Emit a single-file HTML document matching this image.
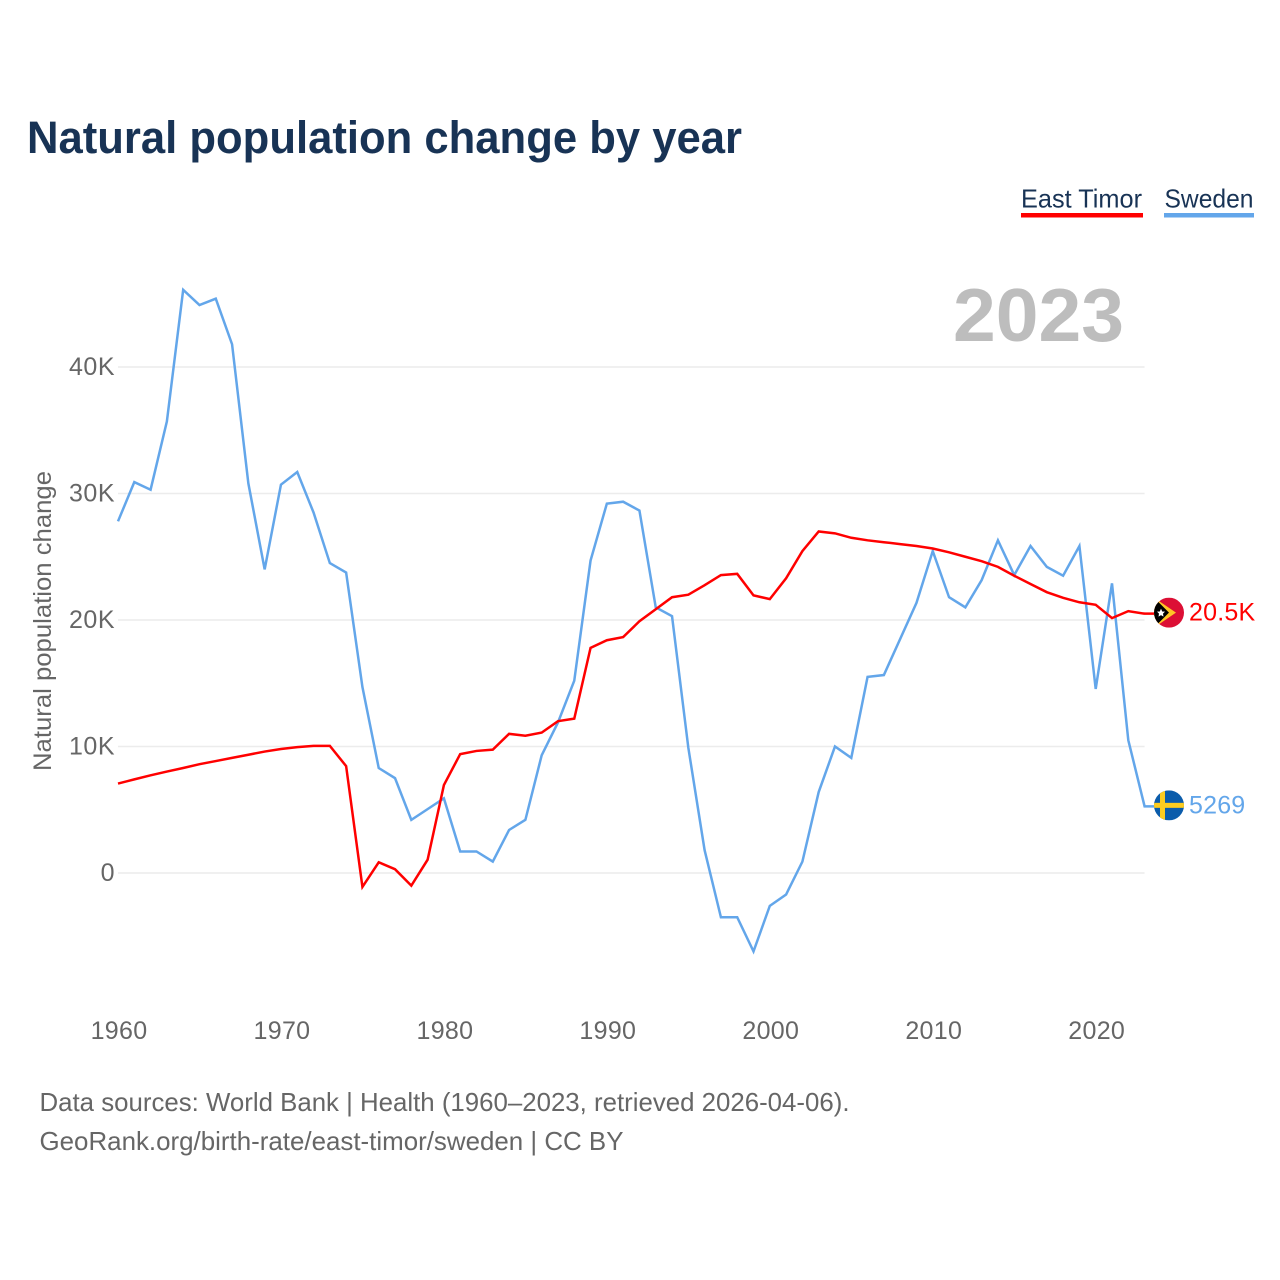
<!DOCTYPE html>
<html lang="en">
<head>
<meta charset="utf-8">
<title>Natural population change by year</title>
<style>
html,body{margin:0;padding:0;background:#fff;}
svg{display:block;font-family:"Liberation Sans",sans-serif;}
</style>
</head>
<body>
<svg id="chart" width="1280" height="1280" viewBox="0 0 1280 1280" xmlns="http://www.w3.org/2000/svg">
  <defs>
    <clipPath id="flag-clip"><circle cx="0" cy="0" r="15"/></clipPath>
  </defs>
  <rect x="0" y="0" width="1280" height="1280" fill="#fff"/>
  <text x="27" y="153" font-size="45" font-weight="700" fill="#183355" textLength="715" lengthAdjust="spacingAndGlyphs">Natural population change by year</text>

  <g>
    <g>
      <text x="1021" y="207.5" font-size="26" fill="#183355" textLength="121" lengthAdjust="spacingAndGlyphs">East Timor</text>
      <rect x="1021" y="213" width="122" height="4.5" fill="#ff0000"/>
    </g>
    <g>
      <text x="1164.5" y="207.5" font-size="26" fill="#183355" textLength="89" lengthAdjust="spacingAndGlyphs">Sweden</text>
      <rect x="1164" y="213" width="90" height="4.5" fill="#63a6ea"/>
    </g>
  </g>

  <text x="953" y="341" font-size="75" font-weight="700" fill="#bdbdbd" textLength="171" lengthAdjust="spacingAndGlyphs">2023</text>

  <g id="grid"></g>
  <g id="y-axis"></g>
  <g id="x-axis"></g>

  <text transform="translate(51,771) rotate(-90)" x="0" y="0" font-size="25" fill="#666" textLength="300" lengthAdjust="spacingAndGlyphs">Natural population change</text>

  <g id="series"></g>
  <g id="end-markers"></g>

  <text x="39.5" y="1111" font-size="26" fill="#666" textLength="810" lengthAdjust="spacingAndGlyphs">Data sources: World Bank | Health (1960–2023, retrieved 2026-04-06).</text>
  <text x="39.5" y="1150" font-size="26" fill="#666" textLength="584" lengthAdjust="spacingAndGlyphs">GeoRank.org/birth-rate/east-timor/sweden | CC BY</text>
</svg>

<script>
const years = [1960,1961,1962,1963,1964,1965,1966,1967,1968,1969,1970,1971,1972,1973,1974,1975,1976,1977,1978,1979,1980,1981,1982,1983,1984,1985,1986,1987,1988,1989,1990,1991,1992,1993,1994,1995,1996,1997,1998,1999,2000,2001,2002,2003,2004,2005,2006,2007,2008,2009,2010,2011,2012,2013,2014,2015,2016,2017,2018,2019,2020,2021,2022,2023];
const swedenValues = [27800,30900,30300,35700,46100,44900,45400,41800,30800,24000,30700,31700,28500,24500,23750,14700,8300,7500,4200,5050,5900,1700,1700,900,3400,4200,9300,11900,15200,24700,29200,29350,28650,21000,20300,9900,1800,-3500,-3500,-6200,-2600,-1700,900,6400,10000,9100,15500,15650,18500,21350,25450,21800,21000,23150,26300,23550,25850,24200,23500,25850,14550,22900,10500,5269];
const eastTimorValues = [7070,7400,7720,8020,8300,8600,8850,9100,9350,9600,9800,9950,10050,10050,8450,-1100,850,300,-1000,1050,6950,9400,9650,9750,11000,10850,11100,12000,12200,17800,18400,18650,19900,20850,21800,22000,22750,23550,23650,21950,21650,23300,25450,27000,26850,26500,26300,26150,26000,25850,25650,25350,25000,24650,24200,23500,22850,22200,21750,21400,21200,20150,20700,20500];
const yTicks = [0,10000,20000,30000,40000];
const yTickLabels = ["0","10K","20K","30K","40K"];
const xTicks = [1960,1970,1980,1990,2000,2010,2020];

const NS = "http://www.w3.org/2000/svg";
const x0 = 118, pxPerYear = 16.295, y0 = 873, pxPerUnit = 126.5 / 10000;
function xScale(year) { return x0 + (year - years[0]) * pxPerYear; }
function yScale(value) { return y0 - value * pxPerUnit; }
function fmt(value) { return Math.abs(value) >= 10000 ? (value / 1000).toFixed(1) + "K" : String(value); }
function make(tag, attrs, parent) {
  const el = document.createElementNS(NS, tag);
  Object.keys(attrs).forEach(function (k) { el.setAttribute(k, attrs[k]); });
  parent.appendChild(el);
  return el;
}

const gridG = document.getElementById("grid");
const yG = document.getElementById("y-axis");
const xG = document.getElementById("x-axis");
const seriesG = document.getElementById("series");
const markersG = document.getElementById("end-markers");
const xRight = xScale(years[years.length - 1]);

yTicks.forEach(function (tick, i) {
  const line = make("line", {x1: x0, x2: xRight, y1: yScale(tick), y2: yScale(tick), stroke: "#ececec", "stroke-width": 1.5}, gridG);
  
  
  const label = make("text", {x: 115, y: yScale(tick) + 8, "text-anchor": "end", "font-size": 25, "letter-spacing": "0.5", fill: "#666"}, yG);
  
  
  label.textContent = yTickLabels[i];
});

xTicks.forEach(function (tick) {
  const label = make("text", {x: xScale(tick) + 1, y: 1039, "text-anchor": "middle", "font-size": 25, "letter-spacing": "0.3", fill: "#666"}, xG);
  
  
  label.textContent = tick;
});

function drawLine(values, color) {
  const lastY = yScale(values[values.length - 1]).toFixed(2);
  const pts = values.map(function (v, i) { return xScale(years[i]).toFixed(2) + "," + yScale(v).toFixed(2); }).join(" ") + " 1154," + lastY;
  return make("polyline", {points: pts, fill: "none", stroke: color, "stroke-width": 2.5, "stroke-linejoin": "miter"}, seriesG);
}

const swedenLine = drawLine(swedenValues, "#63a6ea");


const timorLine = drawLine(eastTimorValues, "#ff0000");



function drawEnd(values, color) {
  const last = values[values.length - 1];
  const g = make("g", {transform: "translate(1169," + (yScale(last) - 1).toFixed(2) + ")"}, markersG);
  const label = make("text", {x: 20, y: 8, "font-size": 25, "letter-spacing": "0.2", fill: color}, g);
  label.textContent = fmt(last);
  const flag = make("g", {"clip-path": "url(#flag-clip)"}, g);
  return {group: g, label: label, flag: flag};
}

const timorEnd = drawEnd(eastTimorValues, "#ff0000");






make("rect", {x: -15, y: -15, width: 30, height: 30, fill: "#dc0f35"}, timorEnd.flag);
make("polygon", {points: "-15,-15 7,0 -15,15", fill: "#ffc726"}, timorEnd.flag);
make("polygon", {points: "-15,-15 0,0 -15,15", fill: "#000"}, timorEnd.flag);
make("polygon", {points: "-8,-4 -6.8,-1.2 -4,-1 -6,1 -5.5,4 -8,2.4 -10.5,4 -10,1 -12,-1 -9.2,-1.2", fill: "#fff"}, timorEnd.flag);

const swedenEnd = drawEnd(swedenValues, "#63a6ea");






make("rect", {x: -15, y: -15, width: 30, height: 30, fill: "#0b5cab"}, swedenEnd.flag);
make("rect", {x: -9, y: -15, width: 5, height: 30, fill: "#fdcc1f"}, swedenEnd.flag);
make("rect", {x: -15, y: -2.5, width: 30, height: 5, fill: "#fdcc1f"}, swedenEnd.flag);
</script>
</body>
</html>
